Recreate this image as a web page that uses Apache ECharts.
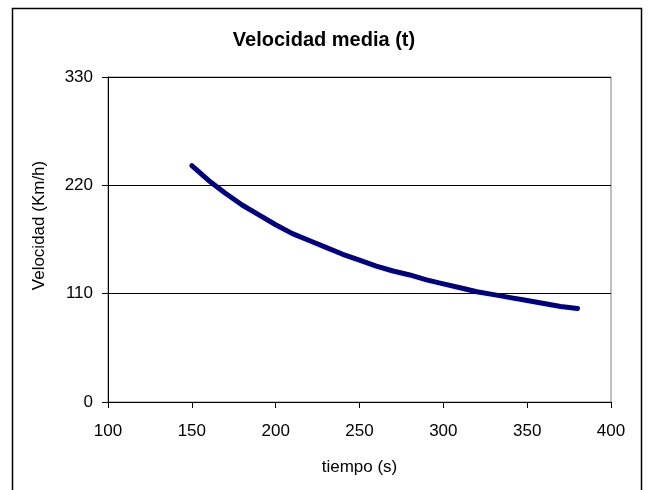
<!DOCTYPE html>
<html>
<head>
<meta charset="utf-8">
<script src="https://cdn.jsdelivr.net/npm/echarts@6/dist/echarts.min.js"></script>
<style>
  html, body { margin: 0; padding: 0; background: #fff; }
  #chart { width: 648px; height: 490px; }
</style>
</head>
<body>
<div id="chart"></div>
<script>
// datos
const tiempo = [150, 160, 170, 180, 190, 200, 210, 220, 230, 240, 250, 260,
  270, 280, 290, 300, 310, 320, 330, 340, 350, 360, 370, 380]
const velocidad = [240, 225, 212, 200, 190, 180, 171, 164, 157, 150, 144, 138,
  133, 129, 124, 120, 116, 112, 109, 106, 103, 100, 97, 95]
const xTicks = [100, 150, 200, 250, 300, 350, 400]
const yTicks = [0, 110, 220, 330]

const font = 'Arial, "Liberation Sans", sans-serif'
const chart = echarts.init(document.getElementById('chart'))

const points = tiempo.map((t, i) => [t, velocidad[i]])

const option = {
  animation: false,
  backgroundColor: '#fff',
  title: {
    text: 'Velocidad media (t)',
    left: 'center',
    top: 25,
    textStyle: {
      fontFamily: font,
      fontSize: 20,
      fontWeight: 'bold',
      color: '#000'
    }
  },
  grid: {
    left: 108,
    right: 37,
    top: 77,
    bottom: 88,
    show: true,
    borderColor: '#808080',
    borderWidth: 1
  },
  // marco exterior
  graphic: [{
    type: 'rect',
    shape: { x: 12.5, y: 8.5, width: 629, height: 500 },
    style: { fill: 'none', stroke: '#000', lineWidth: 1.5 },
    silent: true
  }],
  xAxis: {
    type: 'value',
    min: xTicks[0],
    max: xTicks[xTicks.length - 1],
    interval: 50,
    name: 'tiempo (s)',
    nameLocation: 'middle',
    nameGap: 57,
    nameTextStyle: { fontFamily: font, fontSize: 17, color: '#000' },
    axisLine: { show: true, lineStyle: { color: '#000', width: 1 } },
    axisTick: { show: true, length: 6, lineStyle: { color: '#000' } },
    axisLabel: { fontFamily: font, fontSize: 17, color: '#000', margin: 21 },
    splitLine: { show: false }
  },
  yAxis: {
    type: 'value',
    min: yTicks[0],
    max: yTicks[yTicks.length - 1],
    interval: 110,
    name: 'Velocidad (Km/h)',
    nameLocation: 'middle',
    nameRotate: 90,
    nameGap: 60,
    nameTextStyle: { fontFamily: font, fontSize: 17, color: '#000', padding: [0, 0, 0, 28] },
    axisLine: { show: true, lineStyle: { color: '#000', width: 1 } },
    axisTick: { show: true, length: 6, lineStyle: { color: '#000' } },
    axisLabel: { fontFamily: font, fontSize: 17, color: '#000', margin: 15 },
    splitLine: { show: true, lineStyle: { color: '#000', width: 1 } }
  },
  series: [{
    type: 'line',
    data: points,
    showSymbol: false,
    smooth: false,
    lineStyle: { color: '#000080', width: 5, cap: 'round', join: 'round' },
    itemStyle: { color: '#000080' }
  }]
}

chart.setOption(option)
</script>
</body>
</html>
